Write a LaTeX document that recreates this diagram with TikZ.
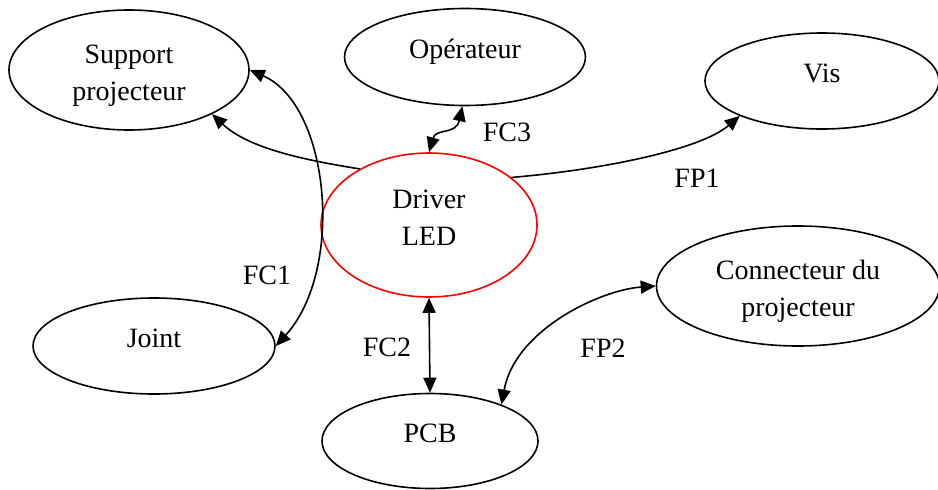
\documentclass[tikz,border=0pt]{standalone}
\usepackage{fontspec}
\setmainfont{Liberation Serif}
\usetikzlibrary{arrows.meta,shapes.geometric}

\tikzset{
	bulle/.style={ellipse,draw,line width=1.6pt,inner sep=0pt,align=center,font=\fontsize{28}{37}\selectfont},
	seul/.style={text depth=16pt},
	etiq/.style={font=\fontsize{28}{37}\selectfont},
	pointe/.tip={Triangle[length=15pt,width=13pt]},
	lien/.style={line width=1.6pt,-pointe},
	lienx/.style={line width=1.6pt,pointe-pointe}
}

\begin{document}
\begin{tikzpicture}[x=1pt,y=-1pt]
	\useasboundingbox (0,0) rectangle (938,490);
	\node [bulle,draw=red,minimum width=216pt,minimum height=144pt] (drv) at (429,225) {Driver\\LED\rule[-14pt]{0pt}{14pt}};
	\node [bulle,minimum width=240pt,minimum height=120pt] (sup) at (129,70) {\rule{0pt}{29pt}Support\\projecteur};
	\node [bulle,seul,minimum width=241pt,minimum height=97pt] (op) at (465,57) {Opérateur};
	\node [bulle,seul,minimum width=234pt,minimum height=96pt] (vis) at (822,81) {Vis};
	\node [bulle,seul,minimum width=242pt,minimum height=96pt] (joint) at (154,346) {Joint};
	\node [bulle,seul,minimum width=216pt,minimum height=95pt] (pcb) at (430,441) {PCB};
	\node [bulle,minimum width=283pt,minimum height=120pt] (con) at (798,286) {\rule{0pt}{29pt}Connecteur du\\projecteur};
	%
	\draw [lien] (drv.141) .. controls (290,158) and (245,145) .. (sup.-28);
	\draw [lienx] (sup.east) .. controls (330,105) and (345,270) .. (joint.east);
	\draw [lienx] (drv.north) .. controls (436,128) and (456,135) .. (op.-93);
	\draw [lien] (drv.30) .. controls (600,170) and (700,150) .. (vis.-157);
	\draw [lienx] (drv.south) -- (pcb.north);
	\draw [lienx] (con.west) .. controls (600,290) and (515,330) .. (pcb.27);
	%
	\node [etiq] (lfc1) at (267,275) {FC1};
	\node [etiq] (lfc2) at (387,347) {FC2};
	\node [etiq] (lfc3) at (507,132) {FC3};
	\node [etiq] (lfp1) at (697,178) {FP1};
	\node [etiq] (lfp2) at (603,348) {FP2};
\end{tikzpicture}
\end{document}
